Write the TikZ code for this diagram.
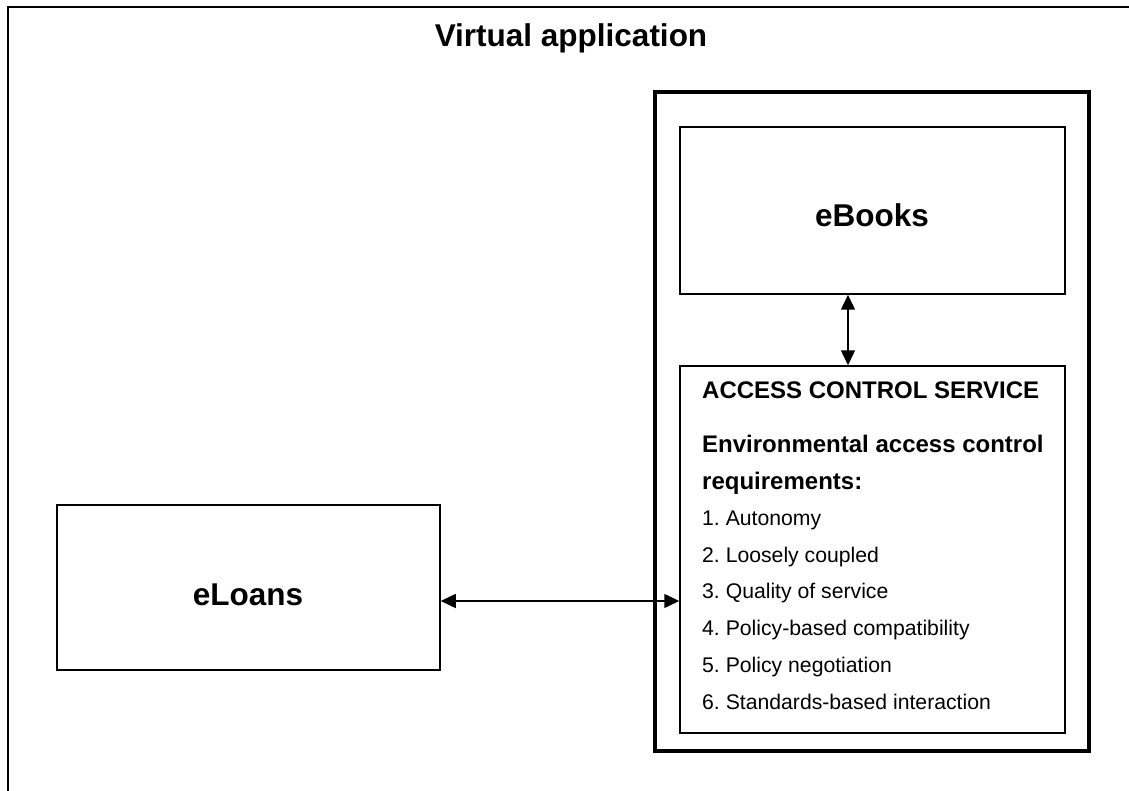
\documentclass[tikz,border=0pt]{standalone}
\usepackage{fontspec}
\setmainfont{Liberation Sans}
\usetikzlibrary{arrows.meta}
\frenchspacing

\newcommand{\bigfont}{\fontsize{31.5}{36}\selectfont\bfseries}
\newcommand{\headfont}{\fontsize{24}{28}\selectfont\bfseries}
\newcommand{\itemfont}{\fontsize{21.2}{25}\selectfont}

\begin{document}
\begin{tikzpicture}[x=1pt,y=-1pt]
		\tikzstyle{every node}+=[inner sep=0pt]
		\tikzstyle{box}=[draw, line width=1.5pt, rectangle]
		\tikzstyle{link}=[line width=1.5pt, {Triangle[length=15pt,width=14pt]}-{Triangle[length=15pt,width=14pt]}]
		\useasboundingbox (0,0) rectangle (1129,791);
		\draw [black, line width=2.2pt] (8,791) -- (8,7) -- (1129,7);
		\node (title) at (571,47) [anchor=base] {\bigfont Virtual application};
		\node (service) at (872,421.5) [draw, line width=4pt, minimum width=434, minimum height=659] {};
		\node (ebooks) at (872.5,210.5) [box, minimum width=385, minimum height=167] {};
		\node (acs) at (872.5,549.5) [box, minimum width=385, minimum height=367] {};
		\node (eloans) at (248.5,587.5) [box, minimum width=383, minimum height=165] {};
		\node (ebookstext) at (872,227) [anchor=base] {\bigfont eBooks};
		\node (eloanstext) at (248,605) [anchor=base] {\bigfont eLoans};
		\node (head) at (702,398) [anchor=base west] {\headfont ACCESS CONTROL SERVICE};
		\node (req) at (702,452) [anchor=base west] {\headfont Environmental access control};
		\node (reqb) at (702,489) [anchor=base west] {\headfont requirements:};
		\node (r1) at (702,525) [anchor=base west] {\itemfont 1. Autonomy};
		\node (r2) at (702,562) [anchor=base west] {\itemfont 2. Loosely coupled};
		\node (r3) at (702,598) [anchor=base west] {\itemfont 3. Quality of service};
		\node (r4) at (702,635) [anchor=base west] {\itemfont 4. Policy-based compatibility};
		\node (r5) at (702,672) [anchor=base west] {\itemfont 5. Policy negotiation};
		\node (r6) at (702,709) [anchor=base west] {\itemfont 6. Standards-based interaction};
		\draw [link] (ebooks.south -| 848,0) -- (acs.north -| 848,0);
		\draw [link] (eloans.east |- 0,601) -- (acs.west |- 0,601);
\end{tikzpicture}
\end{document}
